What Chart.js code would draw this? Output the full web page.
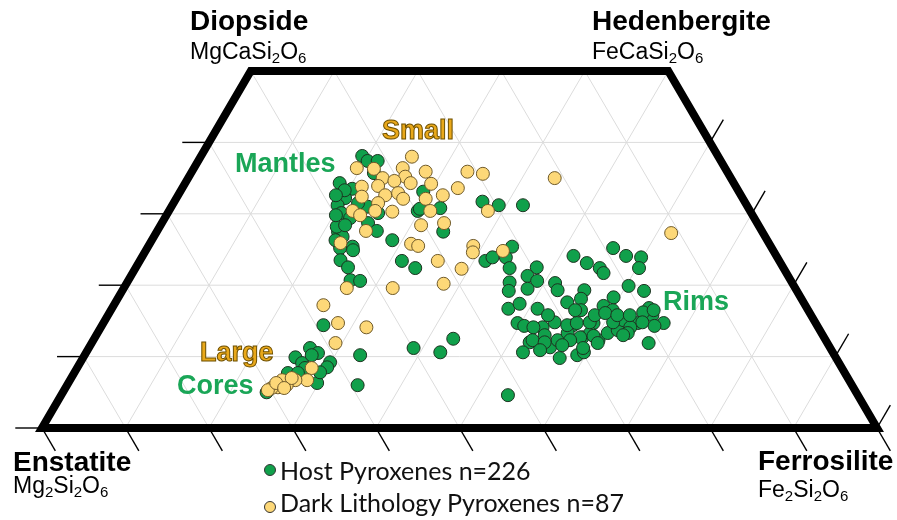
<!DOCTYPE html>
<html>
<head>
<meta charset="utf-8">
<script src="https://cdn.jsdelivr.net/npm/chart.js@4.4.1/dist/chart.umd.min.js"></script>
<style>
  body { margin: 0; background: #fff; }
  #wrap { position: relative; width: 897px; height: 520px; }
  .t { position: absolute; white-space: nowrap; line-height: 1; font-family: "Liberation Sans", Arial, sans-serif; color: #000; }
  .end { font-size: 28px; font-weight: bold; }
  .form { font-size: 23px; }
  .form sub { font-size: 15px; vertical-align: -4px; line-height: 0; }
  .note { font-size: 27px; font-weight: bold; }
  .green { color: #1aa657; }
  .gold { color: #e9a81a; -webkit-text-stroke: 1px #6e5000; }
  .leg { font-family: Lato, "Open Sans", sans-serif; font-size: 25px; color: #111; }
  .dot { position: absolute; width: 10px; height: 10px; border-radius: 50%; border: 1px solid #333; }
</style>
</head>
<body>
<div id="wrap">
  <canvas id="chart" width="897" height="520"></canvas>
  <div class="t end" style="left:190px;top:7px">Diopside</div>
  <div class="t form" style="left:190px;top:40px">MgCaSi<sub>2</sub>O<sub>6</sub></div>
  <div class="t end" style="left:592px;top:7px">Hedenbergite</div>
  <div class="t form" style="left:592px;top:40px">FeCaSi<sub>2</sub>O<sub>6</sub></div>
  <div class="t end" style="left:13px;top:448px">Enstatite</div>
  <div class="t form" style="left:13px;top:474px">Mg<sub>2</sub>Si<sub>2</sub>O<sub>6</sub></div>
  <div class="t end" style="left:758px;top:447px">Ferrosilite</div>
  <div class="t form" style="left:758px;top:478px">Fe<sub>2</sub>Si<sub>2</sub>O<sub>6</sub></div>

  <div class="t note gold" style="left:382px;top:117px">Small</div>
  <div class="t note green" style="left:235px;top:150px">Mantles</div>
  <div class="t note gold" style="left:200px;top:339px">Large</div>
  <div class="t note green" style="left:177px;top:372px">Cores</div>
  <div class="t note green" style="left:663px;top:288px">Rims</div>

  <span class="dot" style="left:264px;top:464px;background:#10a04b"></span>
  <div class="t leg" style="left:280px;top:458px">Host Pyroxenes n=226</div>
  <span class="dot" style="left:264px;top:501px;background:#fdd878"></span>
  <div class="t leg" style="left:280px;top:490px">Dark Lithology Pyroxenes n=87</div>
</div>
<script>
// compositions in mol% (Fs = ferrosilite, Wo = wollastonite)
const hostFs = [19.3, 20.3, 21.5, 21.9, 18.5, 20.4, 20.2, 19.8, 20.8, 22.2, 24.7, 26.3, 21.7, 22.6, 24.5, 28.8, 29.8, 29.1, 32.3, 34.3,
  36.9, 25.2, 23.5, 22.1, 21.2, 23.1, 24.8, 24.0, 25.4, 26.6, 27.8, 31.4, 33.5, 39.1, 42.0, 41.4, 42.0, 43.6, 43.6, 29.9,
  19.6, 18.9, 20.3, 22.1, 22.0,
  48.0, 44.8, 51.6, 53.7, 55.6, 55.8, 57.9, 59.8, 60.3, 56.4, 45.8, 46.3, 47.5, 49.0, 48.4, 51.3, 52.1, 60.3, 62.5, 55.3,
  47.5, 48.5, 51.0, 54.1, 55.5, 59.3, 58.7, 56.3, 64.3, 65.2, 67.1, 66.2, 64.0, 66.7, 60.1, 49.6, 50.6, 52.9, 52.4, 52.3,
  57.1, 59.0, 59.6, 55.2, 55.6, 56.4, 58.4, 58.7, 60.5, 61.1, 62.1, 62.1, 63.4, 53.7, 56.3, 59.0, 63.5, 61.0, 51.8, 54.0,
  55.7, 56.7, 58.2, 58.3, 59.4, 61.0, 62.5, 63.9, 65.0, 64.5, 59.6, 58.1, 57.1, 52.6, 59.2, 60.6, 63.1, 54.2, 43.0, 53.5,
  52.7, 55.6, 56.5, 54.2, 38.9, 42.4,
  26.5, 26.5, 27.8, 29.9, 29.9, 25.4, 26.6, 29.8, 33.0, 34.8, 24.4, 25.6, 27.3, 27.2, 26.8, 29.4];
const hostWo = [38.1, 37.4, 37.4, 35.7, 34.3, 33.5, 32.2, 31.2, 30.1, 29.4, 28.7, 27.6, 27.5, 26.8, 25.4, 26.3, 30.4, 33.1, 30.8, 27.5,
  31.7, 30.1, 31.0, 31.5, 28.2, 25.2, 24.9, 23.5, 22.5, 20.7, 20.6, 23.4, 22.4, 31.2, 31.2, 23.4, 23.9, 23.9, 25.4, 30.7,
  33.3, 32.6, 29.8, 28.4, 26.3,
  22.5, 22.4, 24.1, 23.1, 22.4, 25.2, 24.1, 23.9, 22.4, 21.7, 20.4, 19.2, 21.3, 20.6, 19.5, 20.3, 19.3, 19.9, 19.2, 19.3,
  16.7, 17.4, 16.7, 17.6, 18.1, 18.3, 17.1, 16.5, 16.8, 15.8, 14.7, 14.3, 14.7, 11.9, 16.5, 14.7, 14.3, 14.1, 12.0, 10.6,
  9.8, 10.2, 10.6, 11.3, 12.3, 14.4, 12.7, 14.7, 12.3, 13.3, 13.7, 15.1, 14.1, 13.0, 13.3, 13.3, 13.3, 14.8, 14.1, 14.8,
  14.4, 14.7, 14.8, 15.8, 16.1, 15.8, 15.8, 16.2, 16.5, 14.8, 12.9, 12.7, 12.3, 12.3, 11.2, 11.9, 13.0, 12.0, 12.5, 4.6,
  15.8, 16.5, 11.6, 10.9, 11.2, 10.6,
  14.4, 11.2, 10.5, 9.2, 8.5, 9.9, 9.1, 6.3, 10.2, 6.0, 5.0, 7.7, 8.4, 10.2, 7.7, 7.8];

const darkFs = [25.3, 25.0, 19.5, 21.6, 28.0, 33.0, 35.0, 25.9, 23.3, 24.9, 27.0, 29.5, 33.0, 21.4, 23.3, 26.2, 24.8, 27.2, 29.9, 31.7,
  22.1, 24.5, 26.8, 22.0, 23.2, 24.7, 31.3, 31.2, 33.8, 38.2, 25.0, 22.8, 31.3, 32.3, 38.9, 39.3, 35.7, 39.1, 32.2, 38.0,
  26.7, 43.9, 61.7, 42.8, 25.1, 28.1, 31.8, 29.2, 28.1, 28.4, 27.0, 26.3, 25.4, 24.7, 24.4, 25.4, 26.4, 24.9, 26.2];
const darkWo = [38.0, 36.4, 36.4, 36.3, 35.9, 35.9, 35.6, 35.2, 35.0, 34.6, 34.3, 34.2, 33.6, 33.8, 33.9, 32.9, 32.6, 32.1, 32.1, 32.6,
  32.4, 31.5, 30.3, 30.4, 29.8, 30.4, 30.4, 28.4, 28.7, 30.4, 27.6, 25.9, 25.8, 25.5, 25.5, 24.6, 23.4, 22.3, 19.6, 20.2,
  19.6, 35.0, 27.3, 24.8, 17.2, 14.7, 14.1, 11.9, 8.4, 6.7, 6.7, 6.0, 5.7, 5.6, 5.3, 6.7, 7.0, 6.3, 5.6];

const gridLevels = [10, 20, 30, 40, 50, 60, 70, 80, 90];
const woTicks = [0, 10, 20, 30, 40];
const fsTicks = [0, 10, 20, 30, 40, 50, 60, 70, 80, 90, 100];

const SQ = Math.sqrt(3) / 2;
// ternary projection of the pyroxene quadrilateral
function pt(fs, wo) {
  return { x: fs + wo / 2, y: wo * SQ };
}

function seg(a, b, color, width, order) {
  return {
    type: 'scatter', data: [a, b], showLine: true, pointRadius: 0,
    borderColor: color, borderWidth: width, order: order, clip: false
  };
}

const datasets = [];

// light grid
woTicks.slice(1).forEach(wo => datasets.push(seg(pt(0, wo), pt(100 - wo, wo), '#dcdcdc', 1, 5)));
gridLevels.forEach(k => {
  // constant Fs line (stops at the top or at the En = 0 edge)
  const topFs = Math.min(50, 100 - k);
  datasets.push(seg(pt(k, 0), pt(k, topFs), '#dcdcdc', 1, 5));
  // constant En line (stops at the top or at the Fs = 0 edge)
  const topEn = Math.min(50, k);
  datasets.push(seg(pt(k, 0), pt(k - topEn, topEn), '#dcdcdc', 1, 5));
});

// ticks outside the frame
fsTicks.forEach(k => datasets.push(seg(pt(k, 0), pt(k + 3.2, -3.2), '#000', 1.4, 4)));
woTicks.forEach(wo => datasets.push(seg(pt(0, wo), pt(-3.2, wo), '#000', 1.4, 4)));
woTicks.forEach(wo => datasets.push(seg(pt(100 - wo, wo), pt(100 - wo, wo + 3.2), '#000', 1.4, 4)));

// frame
datasets.push({
  type: 'scatter',
  data: [pt(0, 0), pt(100, 0), pt(50, 50), pt(0, 50), pt(0, 0), pt(20, 0)],
  showLine: true, pointRadius: 0, borderColor: '#000', borderWidth: 8,
  borderJoinStyle: 'miter', order: 3, clip: false
});

datasets.push({
  label: 'Host Pyroxenes n=226',
  data: hostFs.map((f, i) => pt(f, hostWo[i])),
  backgroundColor: '#10a04b', borderColor: '#1d3320', borderWidth: 1,
  pointRadius: 6.5, order: 1
});
datasets.push({
  label: 'Dark Lithology Pyroxenes n=87',
  data: darkFs.map((f, i) => pt(f, darkWo[i])),
  backgroundColor: '#fdd878', borderColor: '#6f5a2a', borderWidth: 1,
  pointRadius: 6.5, order: 0
});

new Chart(document.getElementById('chart'), {
  type: 'scatter',
  data: { datasets: datasets },
  options: {
    responsive: false,
    animation: false,
    events: [],
    layout: { padding: { left: 42, right: 20, top: 71, bottom: 92 } },
    scales: {
      x: { type: 'linear', min: 0, max: 100, display: false },
      y: { type: 'linear', min: 0, max: 50 * SQ, display: false }
    },
    plugins: { legend: { display: false }, tooltip: { enabled: false } }
  }
});
</script>
</body>
</html>
